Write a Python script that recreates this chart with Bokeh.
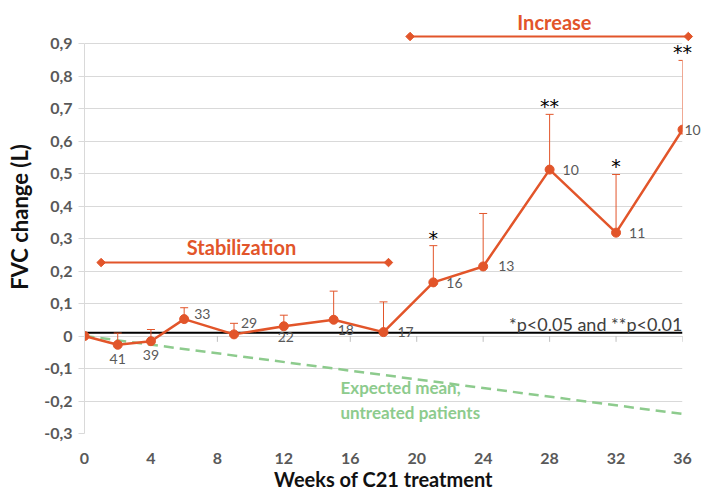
import math
from bokeh.plotting import figure
from bokeh.models import (Range1d, FixedTicker, CustomJSTickFormatter, Whisker,
                          ColumnDataSource, Span, TeeHead)
from bokeh.core.properties import value
from bokeh.embed import file_html
from bokeh.resources import INLINE

# ---------------- data ----------------
weeks = [0, 2, 4, 6, 9, 12, 15, 18, 21, 24, 28, 32, 36]
fvc_change = [0.0, -0.027, -0.016, 0.052, 0.005, 0.030, 0.050, 0.012, 0.165, 0.214, 0.512, 0.318, 0.635]
sd_upper = [0.0, 0.036, 0.036, 0.035, 0.034, 0.034, 0.088, 0.093, 0.113, 0.163, 0.170, 0.179, 0.213]
n_patients = ["", "41", "39", "33", "29", "22", "18", "17", "16", "13", "10", "11", "10"]
significance = ["", "", "", "", "", "", "", "", "*", "", "**", "*", "**"]

expected_weeks = [0, 36]
expected_change = [0.0, -0.24]

reference_level = 0.01
stabilization_span = [1.0, 18.3]
stabilization_level = 0.226
increase_span = [19.6, 36.35]
increase_level = 0.9215

x_ticks = [0, 4, 8, 12, 16, 20, 24, 28, 32, 36]
y_ticks = [-0.3, -0.2, -0.1, 0.0, 0.1, 0.2, 0.3, 0.4, 0.5, 0.6, 0.7, 0.8, 0.9]

# ---------------- styles ----------------
ORANGE = "#E2552A"
GREEN = "#8DCB8D"
GRID = "#D9D9D9"
TICK_GRAY = "#595959"
FONT = "Lato"

# label placement for n (dx, dy in px (up positive), align)
n_place = [None, (0, -14, "center"), (0, -14, "center"), (10, 5, "left"), (7, 11, "left"),
           (2, -11, "center"), (4, -10, "left"), (14, 0, "left"), (13, -1, "left"),
           (15, 0, "left"), (13, 0, "left"), (13, 0, "left"), (2, 0, "left")]

p = figure(width=702, height=490,
           x_range=Range1d(0, 36), y_range=Range1d(-0.3, -0.3 + 433 / 325),
           output_backend="svg", toolbar_location=None,
           min_border_left=84, min_border_right=20, min_border_top=0, min_border_bottom=57)
p.outline_line_color = None
p.background_fill_color = "white"
p.border_fill_color = "white"

# axes
p.xaxis.ticker = FixedTicker(ticks=x_ticks)
p.xaxis.axis_line_color = None
p.xaxis.major_tick_line_color = None
p.xaxis.minor_tick_line_color = None
p.xaxis.major_label_standoff = 13
p.xaxis.major_label_text_font = FONT
p.xaxis.major_label_text_font_style = "bold"
p.xaxis.major_label_text_font_size = "16px"
p.xaxis.major_label_text_color = TICK_GRAY

p.yaxis.ticker = FixedTicker(ticks=y_ticks)
p.yaxis.formatter = CustomJSTickFormatter(code="""
var s = tick.toFixed(1);
if (s == '0.0' || s == '-0.0') { return '0'; }
return s.replace('.', ',');
""")
p.yaxis.bounds = (-0.3, 0.9)
p.yaxis.axis_line_color = GRID
p.yaxis.major_tick_line_color = GRID
p.yaxis.major_tick_out = 6
p.yaxis.major_tick_in = 0
p.yaxis.minor_tick_line_color = None
p.yaxis.major_label_standoff = 6
p.yaxis.major_label_text_font = FONT
p.yaxis.major_label_text_font_style = "bold"
p.yaxis.major_label_text_font_size = "16px"
p.yaxis.major_label_text_color = TICK_GRAY
p.yaxis.axis_label = "FVC change (L)"
p.yaxis.axis_label_text_font = FONT
p.yaxis.axis_label_text_font_style = "bold"
p.yaxis.axis_label_text_font_size = "22px"
p.yaxis.axis_label_text_color = "#111111"
p.yaxis.axis_label_standoff = 8

p.xgrid.visible = False
p.ygrid.ticker = FixedTicker(ticks=y_ticks)
p.ygrid.grid_line_color = GRID

# reference line
p.add_layout(Span(location=reference_level, dimension="width", line_color="black",
                  line_width=2, level="underlay"))

# x axis tick marks at zero
p.segment(x0=x_ticks, y0=[0.0] * len(x_ticks), x1=x_ticks, y1=[-0.018] * len(x_ticks),
          line_color="#BFBFBF", line_width=1)

# expected mean untreated
p.line(expected_weeks, expected_change, line_color=GREEN, line_width=2.5, line_dash="10 6")

# error bars
eb = [(w, v, v + s) for w, v, s in zip(weeks, fvc_change, sd_upper) if s > 0]
src_err = ColumnDataSource(dict(x=[e[0] for e in eb], lower=[e[1] for e in eb], upper=[e[2] for e in eb]))
p.add_layout(Whisker(source=src_err, base="x", lower="lower", upper="upper",
                     line_color=ORANGE, line_width=1,
                     upper_head=TeeHead(size=8, line_color=ORANGE, line_width=1),
                     lower_head=None, level="glyph"))

# main series
p.line(weeks, fvc_change, line_color=ORANGE, line_width=2.5)
p.scatter(weeks, fvc_change, size=9, fill_color=ORANGE, line_color=ORANGE)


def add_text(x, y, text, dx=0, dy=0, align="left", baseline="middle", font=FONT,
             size="14px", style="normal", color=TICK_GRAY):
    p.text(x=[x], y=[y], text=[text], x_offset=dx, y_offset=-dy, text_align=align,
           text_baseline=baseline, text_font=value(font), text_font_size=size,
           text_font_style=style, text_color=color, level="overlay")


# n labels
for w, v, t, pl in zip(weeks, fvc_change, n_patients, n_place):
    if not t:
        continue
    dx, dy, al = pl
    add_text(w, v, t, dx=dx, dy=dy, align=al)

# significance stars
for w, v, s, sig in zip(weeks, fvc_change, sd_upper, significance):
    if not sig:
        continue
    add_text(w, v + s, sig, dy=8, align="center", baseline="alphabetic",
             font="DejaVu Sans", size="19px", color="black")

# brackets
bx0 = [stabilization_span[0], increase_span[0]]
bx1 = [stabilization_span[1], increase_span[1]]
by = [stabilization_level, increase_level]
p.segment(x0=bx0, y0=by, x1=bx1, y1=by, line_color=ORANGE, line_width=2, level="overlay")
p.scatter(x=bx0 + bx1, y=by + by, marker="square", angle=math.pi / 4, size=6,
          fill_color=ORANGE, line_color=ORANGE, level="overlay")

add_text(9.45, 0.275, "Stabilization", align="center", size="20px", style="bold", color=ORANGE)
add_text(28.29, 0.965, "Increase", align="center", size="20px", style="bold", color=ORANGE)

# p-value note
add_text(36, reference_level, "*p<0.05 and **p<0.01", dy=9, align="right",
         baseline="alphabetic", size="18px", color="#404040")

# expected mean text
add_text(15.41, -0.1575, "Expected mean,", size="17px", style="bold", color=GREEN)
add_text(15.41, -0.2345, "untreated patients", size="17px", style="bold", color=GREEN)

# x axis title
add_text(18, -0.4415, "Weeks of C21 treatment", align="center", size="20px",
         style="bold", color="#111111")

open("out.html", "w").write(file_html(p, INLINE))
